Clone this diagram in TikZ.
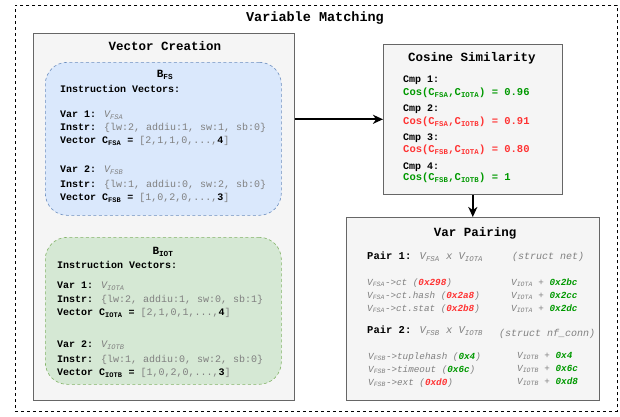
\documentclass[tikz,border=0pt]{standalone}
\usepackage{fontspec}
\setmainfont{Liberation Mono}
\usetikzlibrary{arrows.meta}
\definecolor{boxgray}{HTML}{F5F5F5}
\definecolor{boxline}{HTML}{666666}
\definecolor{bluefill}{HTML}{DAE8FC}
\definecolor{blueline}{HTML}{6C8EBF}
\definecolor{greenfill}{HTML}{D5E8D4}
\definecolor{greenline}{HTML}{82B366}
\definecolor{okgreen}{HTML}{009900}
\definecolor{badred}{HTML}{FF3333}
\definecolor{valgray}{HTML}{808080}
% a variable symbol: italic V with a subscript
\newcommand\varsym[1]{\textit{V\textsubscript{#1}}}
\newcommand\gr[1]{\textcolor{valgray}{#1}}
\tikzset{
  x=1pt, y=-1pt,
  panel/.style={draw=boxline, fill=boxgray, line width=0.6pt, inner sep=0pt, anchor=north west},
  bucket/.style={line width=0.6pt, dash pattern=on 3pt off 2.5pt, rounded corners=22pt, inner sep=0pt, anchor=north west},
  frame/.style={draw=black, line width=0.8pt, dash pattern=on 3pt off 3pt, inner sep=0pt, anchor=north west},
  txt/.style={anchor=west, inner sep=0pt, font=\fontsize{10}{12}\selectfont},
  small/.style={anchor=west, inner sep=0pt, font=\fontsize{9.3}{11}\selectfont},
  head/.style={inner sep=0pt, font=\fontsize{12.5}{14}\selectfont\bfseries},
  flow/.style={line width=2pt, -{Stealth[length=10pt, width=9pt, inset=3pt]}},
}
\begin{document}
\begin{tikzpicture}
\useasboundingbox (0,0) rectangle (620,416);

% outer dashed frame
\node[frame, minimum width=602pt, minimum height=406pt] (frame) at (15,5) {};
\node[head, font=\fontsize{13.5}{15}\selectfont\bfseries] (ftitle) at (315,18) {Variable Matching};

% ---------- Vector Creation ----------
\node[panel, minimum width=261pt, minimum height=367pt] (vc) at (33,33) {};
\node[head] (vctitle) at (165,46) {Vector Creation};

\node[bucket, draw=blueline, fill=bluefill, minimum width=236pt, minimum height=153pt] (bfs) at (45,62) {};
\node[inner sep=0pt, font=\fontsize{11}{13}\selectfont\bfseries] (bfst) at (165,75) {B\textsubscript{FS}};
\node[txt] (fs0) at (60,89) {\textbf{Instruction Vectors:}};
\node[txt] (fs1) at (60,115) {\textbf{Var 1:} \gr{\varsym{FSA}}};
\node[txt] (fs2) at (60,128) {\textbf{Instr:} \gr{\{lw:2, addiu:1, sw:1, sb:0\}}};
\node[txt] (fs3) at (60,141) {\textbf{Vector C\textsubscript{FSA} =} \gr{[2,1,1,0,...,}\textbf{4}\gr{]}};
\node[txt] (fs4) at (60,170) {\textbf{Var 2:} \gr{\varsym{FSB}}};
\node[txt] (fs5) at (60,185) {\textbf{Instr:} \gr{\{lw:1, addiu:0, sw:2, sb:0\}}};
\node[txt] (fs6) at (60,198) {\textbf{Vector C\textsubscript{FSB} =} \gr{[1,0,2,0,...,}\textbf{3}\gr{]}};

\node[bucket, draw=greenline, fill=greenfill, minimum width=236pt, minimum height=147pt] (biot) at (45,237) {};
\node[inner sep=0pt, font=\fontsize{11}{13}\selectfont\bfseries] (biott) at (163,252) {B\textsubscript{IOT}};
\node[txt] (io0) at (57,265) {\textbf{Instruction Vectors:}};
\node[txt] (io1) at (57,286) {\textbf{Var 1:} \gr{\varsym{IOTA}}};
\node[txt] (io2) at (57,300) {\textbf{Instr:} \gr{\{lw:2, addiu:1, sw:0, sb:1\}}};
\node[txt] (io3) at (57,313) {\textbf{Vector C\textsubscript{IOTA} =} \gr{[2,1,0,1,...,}\textbf{4}\gr{]}};
\node[txt] (io4) at (57,345) {\textbf{Var 2:} \gr{\varsym{IOTB}}};
\node[txt] (io5) at (57,360) {\textbf{Instr:} \gr{\{lw:1, addiu:0, sw:2, sb:0\}}};
\node[txt] (io6) at (57,373) {\textbf{Vector C\textsubscript{IOTB} =} \gr{[1,0,2,0,...,}\textbf{3}\gr{]}};

% ---------- Cosine Similarity ----------
\node[panel, minimum width=179pt, minimum height=150pt] (cs) at (383,44) {};
\node[head] (cstitle) at (472,58) {Cosine Similarity};
\node[txt, font=\fontsize{10}{12}\selectfont\bfseries] (c1) at (403,80) {Cmp 1:};
\node[txt, font=\fontsize{10.5}{12}\selectfont\bfseries, text=okgreen] (c1v) at (403,93) {Cos(C\textsubscript{FSA},C\textsubscript{IOTA}) = 0.96};
\node[txt, font=\fontsize{10}{12}\selectfont\bfseries] (c2) at (403,109) {Cmp 2:};
\node[txt, font=\fontsize{10.5}{12}\selectfont\bfseries, text=badred] (c2v) at (403,122) {Cos(C\textsubscript{FSA},C\textsubscript{IOTB}) = 0.91};
\node[txt, font=\fontsize{10}{12}\selectfont\bfseries] (c3) at (403,138) {Cmp 3:};
\node[txt, font=\fontsize{10.5}{12}\selectfont\bfseries, text=badred] (c3v) at (403,150) {Cos(C\textsubscript{FSB},C\textsubscript{IOTA}) = 0.80};
\node[txt, font=\fontsize{10}{12}\selectfont\bfseries] (c4) at (403,167) {Cmp 4:};
\node[txt, font=\fontsize{10.5}{12}\selectfont\bfseries, text=okgreen] (c4v) at (403,178) {Cos(C\textsubscript{FSB},C\textsubscript{IOTB}) = 1};

% ---------- Var Pairing ----------
\node[panel, minimum width=253pt, minimum height=183pt] (vp) at (346,217) {};
\node[head] (vptitle) at (475,233) {Var Pairing};
\node[txt, font=\fontsize{10.5}{12}\selectfont] (p1) at (367,257) {\textbf{Pair 1:} \gr{\varsym{FSA} \textit{x} \varsym{IOTA}}};
\node[txt, font=\fontsize{10}{12}\selectfont] (p1s) at (512,257) {\gr{\textit{(struct net)}}};
\node[small] (p1a) at (367,283) {\gr{\varsym{FSA}\textit{->ct (}}\textcolor{badred}{\textbf{\textit{0x298}}}\gr{\textit{)}}};
\node[small] (p1b) at (367,296) {\gr{\varsym{FSA}\textit{->ct.hash (}}\textcolor{badred}{\textbf{\textit{0x2a8}}}\gr{\textit{)}}};
\node[small] (p1c) at (367,309) {\gr{\varsym{FSA}\textit{->ct.stat (}}\textcolor{badred}{\textbf{\textit{0x2b8}}}\gr{\textit{)}}};
\node[small] (p1d) at (511,283) {\gr{\varsym{IOTA} + }\textcolor{okgreen}{\textbf{\textit{0x2bc}}}};
\node[small] (p1e) at (511,296) {\gr{\varsym{IOTA} + }\textcolor{okgreen}{\textbf{\textit{0x2cc}}}};
\node[small] (p1f) at (511,309) {\gr{\varsym{IOTA} + }\textcolor{okgreen}{\textbf{\textit{0x2dc}}}};

\node[txt, font=\fontsize{10.5}{12}\selectfont] (p2) at (367,331) {\textbf{Pair 2:} \gr{\varsym{FSB} \textit{x} \varsym{IOTB}}};
\node[txt, font=\fontsize{10}{12}\selectfont] (p2s) at (499,334) {\gr{\textit{(struct nf\_conn)}}};
\node[small] (p2a) at (368,357) {\gr{\varsym{FSB}\textit{->tuplehash (}}\textcolor{okgreen}{\textbf{\textit{0x4}}}\gr{\textit{)}}};
\node[small] (p2b) at (368,370) {\gr{\varsym{FSB}\textit{->timeout (}}\textcolor{okgreen}{\textbf{\textit{0x6c}}}\gr{\textit{)}}};
\node[small] (p2c) at (368,383) {\gr{\varsym{FSB}\textit{->ext (}}\textcolor{badred}{\textbf{\textit{0xd0}}}\gr{\textit{)}}};
\node[small] (p2d) at (517,356) {\gr{\varsym{IOTB} + }\textcolor{okgreen}{\textbf{\textit{0x4}}}};
\node[small] (p2e) at (517,369) {\gr{\varsym{IOTB} + }\textcolor{okgreen}{\textbf{\textit{0x6c}}}};
\node[small] (p2f) at (517,382) {\gr{\varsym{IOTB} + }\textcolor{okgreen}{\textbf{\textit{0xd8}}}};

% ---------- connectors ----------
\draw[flow] (vc.east |- cs.west) -- (cs.west);
\draw[flow] (cs.south) -- (vp.north);
\end{tikzpicture}
\end{document}
